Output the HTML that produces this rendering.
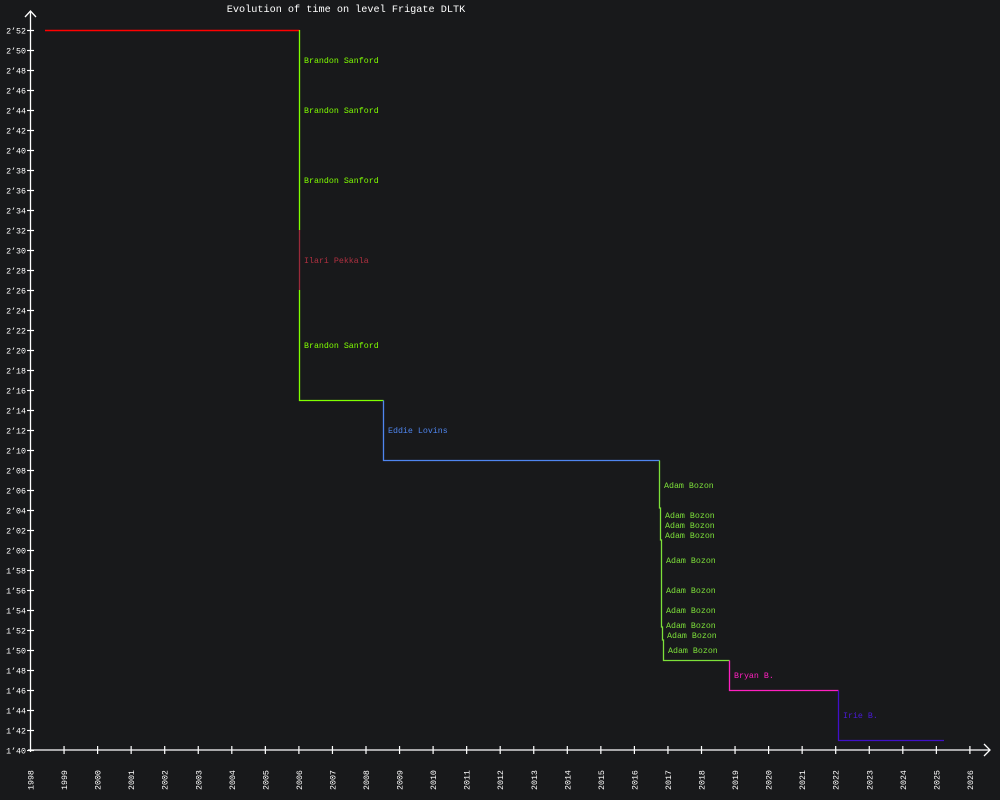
<!DOCTYPE html>
<html><head><style>html,body{margin:0;padding:0;background:#18191b;}svg{display:block}</style></head>
<body>
<svg width="1000" height="800" xmlns="http://www.w3.org/2000/svg" font-family="Liberation Mono, monospace">
<rect width="1000" height="800" fill="#18191b"/>
<text x="346" y="12" fill="#fff" font-size="10.2" text-anchor="middle">Evolution of time on level Frigate DLTK</text>
<g stroke="#fff" stroke-width="1.3" fill="none">
<line x1="30.5" y1="752" x2="30.5" y2="11"/>
<polyline points="25,17 30.5,11 36,17"/>
<line x1="28" y1="750" x2="990" y2="750"/>
<polyline points="984,744 990,750 984,756"/>
</g>
<g id="yt" stroke="#fff" stroke-width="1.2"></g>
<g id="yl" fill="#fff" font-size="8.3" text-anchor="end"></g>
<g id="xt" stroke="#fff" stroke-width="1.2"></g>
<g id="xl" fill="#fff" font-size="8.3"></g>
<g fill="none" stroke-width="1.3">
<line x1="45" y1="30.5" x2="299.5" y2="30.5" stroke="#ff0000" stroke-width="1.6"/>
<polyline points="299.5,30 299.5,230" stroke="#80ff00"/>
<polyline points="299.5,230 299.5,290" stroke="#9a2a3a"/>
<polyline points="299.5,290 299.5,400.5 383.5,400.5" stroke="#80ff00"/>
<polyline points="383.5,400.5 383.5,460.5 659.5,460.5" stroke="#4f86f0"/>
<polyline points="659.5,460.5 659.5,508 660.5,508 660.5,540 661.5,540 661.5,627 662.5,627 662.5,640 663.5,640 663.5,660.5 729.5,660.5" stroke="#7de03a"/>
<polyline points="729.5,660.5 729.5,690.5 838.5,690.5" stroke="#ff20c0"/>
<polyline points="838.5,690.5 838.5,740.5 944,740.5" stroke="#4010c8"/>
</g>
<g font-size="8.3">
<text x="304" y="63" fill="#80ff00">Brandon Sanford</text>
<text x="304" y="113" fill="#80ff00">Brandon Sanford</text>
<text x="304" y="183" fill="#80ff00">Brandon Sanford</text>
<text x="304" y="263" fill="#b03040">Ilari Pekkala</text>
<text x="304" y="348" fill="#80ff00">Brandon Sanford</text>
<text x="388" y="433" fill="#4f86f0">Eddie Lovins</text>
<g fill="#7de03a">
<text x="664" y="488">Adam Bozon</text>
<text x="665" y="518">Adam Bozon</text>
<text x="665" y="528">Adam Bozon</text>
<text x="665" y="538">Adam Bozon</text>
<text x="666" y="563">Adam Bozon</text>
<text x="666" y="593">Adam Bozon</text>
<text x="666" y="613">Adam Bozon</text>
<text x="666" y="628">Adam Bozon</text>
<text x="667" y="638">Adam Bozon</text>
<text x="668" y="653">Adam Bozon</text>
</g>
<text x="734" y="678" fill="#ff20c0">Bryan B.</text>
<text x="843" y="718" fill="#4a1ad8">Irie B.</text>
</g>
<script>
var ns="http://www.w3.org/2000/svg";
function el(p,t,a,txt){var e=document.createElementNS(ns,t);for(var k in a)e.setAttribute(k,a[k]);if(txt)e.textContent=txt;document.getElementById(p).appendChild(e);}
for(var i=0;i<=36;i++){var s=172-2*i;var y=30.5+20*i;var m=Math.floor(s/60),sec=s%60;
el("yt","line",{x1:27,y1:y,x2:34,y2:y});
el("yl","text",{x:26,y:y+3},m+"\u2019"+(sec<10?"0":"")+sec);}
for(var j=0;j<=28;j++){var x=30.5+33.55*j;
if(j>0)el("xt","line",{x1:x,y1:746,x2:x,y2:754});
el("xl","text",{transform:"translate("+(x+3)+",790) rotate(-90)",x:0,y:0},String(1998+j));}
</script>
</svg>
</body></html>
